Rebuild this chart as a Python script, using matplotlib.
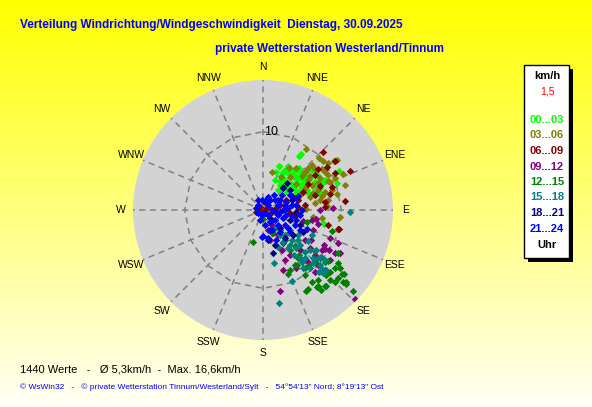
import matplotlib
matplotlib.use("Agg")
import matplotlib.pyplot as plt
import numpy as np
from matplotlib.colors import LinearSegmentedColormap
from matplotlib.patches import Polygon, Rectangle

plt.rcParams['font.family'] = ['Liberation Sans', 'DejaVu Sans']

# wind direction (deg, from N clockwise) and speed (km/h), per 3-hour block
dir_00 = [34, 34, 20, 63, 70, 29, 33, 39, 44, 50, 32, 40, 49, 56, 34, 46, 55, 56, 62, 51,
          58, 19, 37, 62, 66, 69, 64, 102, 73, 71, 103, 34, 44, 51, 38, 48, 28, 56, 48,
          30, 28, 39, 41, 55, 64, 53, 30, 63, 69, 22, 56, 65]
spd_00 = [8.6, 8.3, 6.0, 10.9, 10.1, 5.8, 6.4, 6.5, 6.8, 7.0, 4.8, 5.3, 5.8, 6.2, 3.9, 4.2, 4.9, 7.3, 7.5, 8.1,
          8.3, 5.1, 3.2, 5.4, 6.2, 7.8, 8.8, 7.8, 7.6, 7.2, 8.0, 5.7, 6.1, 6.4, 4.5, 5.0, 4.9, 5.7, 7.7,
          6.5, 5.5, 5.9, 7.1, 6.7, 7.1, 3.8, 4.3, 4.7, 6.1, 4.1, 8.2, 8.3]

dir_03 = [35, 47, 51, 13, 32, 38, 47, 73, 66, 66, 48, 54, 52, 61, 59, 67, 63, 70, 74, 62,
          68, 75, 80, 52, 74, 54, 39, 66, 82, 29, 95, 98, 89, 86, 55, 56, 98,
          47, 55, 62, 64, 77, 81, 56, 49, 78, 71]
spd_03 = [9.5, 9.8, 9.9, 5.0, 6.3, 6.8, 7.9, 10.9, 11.2, 9.1, 7.2, 7.4, 8.4, 8.3, 9.3, 9.3, 7.0, 7.5, 8.2, 6.1,
          5.1, 6.2, 7.4, 5.4, 9.2, 10.2, 5.5, 10.1, 6.7, 4.8, 9.9, 6.4, 5.5, 8.2, 11.0, 11.4, 7.6,
          8.5, 9.2, 9.4, 7.8, 7.7, 8.4, 6.9, 6.6, 9.6, 6.7]

dir_06 = [46, 56, 56, 66, 63, 72, 77, 84, 83, 87, 53, 56, 41, 85, 83, 66, 60, 74, 74, 67,
          64, 292, 180, 59, 315, 72, 103, 81, 74, 96, 101, 67, 104, 103, 104, 270, 250, 20]
spd_06 = [10.7, 11.1, 9.8, 12.2, 10.3, 9.3, 8.8, 10.5, 8.0, 7.9, 8.8, 8.0, 3.9, 4.5, 5.4, 5.6, 6.6, 6.9, 4.6, 7.9,
          4.1, 0.7, 0.3, 0.8, 0.5, 0.4, 1.2, 1.7, 2.3, 3.5, 4.2, 3.2, 9.9, 8.5, 10.0, 0.6, 0.9, 1.0]

dir_09 = [134, 168, 100, 102, 121, 120, 121, 140, 134, 130, 126, 129, 131, 139, 135, 137, 149, 149, 167, 149,
          149, 166, 156, 150, 122, 113, 105, 104, 114, 119, 88, 90, 162, 157, 129,
          122, 124, 143, 155, 127, 112]
spd_09 = [16.4, 10.6, 6.9, 6.4, 10.7, 9.0, 9.8, 10.4, 11.0, 9.5, 6.6, 7.7, 8.8, 8.8, 9.9, 7.0, 2.2, 3.7, 3.9, 4.9,
          6.7, 2.6, 7.0, 8.5, 9.3, 9.3, 5.3, 7.3, 10.5, 11.3, 9.0, 7.3, 8.1, 3.2, 9.6,
          7.3, 9.1, 8.3, 5.7, 10.7, 6.9]

dir_12 = [197, 107, 120, 125, 128, 128, 131, 132, 132, 135, 136, 144, 150, 152, 159, 156, 150, 138, 141, 140,
          137, 130, 128, 133, 147, 148, 146, 144, 129, 142, 140, 145, 141, 129, 180, 159, 105,
          135, 136, 132, 144, 146, 127, 144, 144, 132]
spd_12 = [4.3, 9.2, 11.0, 11.7, 10.5, 13.2, 14.1, 13.7, 15.4, 13.0, 11.5, 12.0, 11.6, 11.7, 8.8, 8.4, 8.1, 6.1, 7.4, 9.2,
          10.6, 10.3, 8.4, 11.7, 9.9, 8.3, 6.2, 4.8, 11.8, 11.4, 12.6, 12.0, 12.5, 12.9, 1.1, 3.2, 5.8,
          9.4, 12.4, 12.9, 12.7, 11.1, 12.3, 9.1, 7.6, 14.2]

dir_15 = [168, 158, 170, 158, 129, 139, 136, 133, 135, 134, 134, 145, 143, 141, 147, 125, 127, 140, 129, 126,
          138, 91, 117, 136, 146, 127, 146, 142, 137, 139,
          142, 139, 131, 135, 130, 131, 148, 145, 134]
spd_15 = [6.9, 9.8, 12.0, 5.1, 9.6, 4.3, 5.3, 6.5, 7.6, 8.8, 10.1, 7.0, 8.3, 9.5, 5.8, 7.0, 8.5, 3.4, 10.2, 5.5,
          10.6, 11.1, 7.0, 11.1, 3.9, 4.3, 2.8, 7.7, 9.3, 6.4,
          5.6, 8.1, 9.3, 10.6, 7.9, 5.9, 4.8, 9.0, 11.1]

dir_18 = [42, 42, 54, 71, 90, 110, 137, 142, 130, 161, 167, 139, 112, 56, 171, 94, 119]
spd_18 = [4.6, 3.8, 4.3, 3.9, 2.8, 3.7, 3.2, 4.5, 5.0, 4.7, 5.6, 1.4, 5.1, 2.3, 3.9, 4.2, 5.8]

dir_21 = [315, 354, 21, 0, 45, 50, 52, 61, 90, 97, 85, 81, 135, 130, 112, 102, 98, 172, 156, 142,
          126, 115, 113, 170, 157, 35, 72, 71, 191, 239, 180, 182, 68, 124, 108, 80, 150, 77, 90,
          17, 36, 60, 70, 90, 146, 99, 102, 107, 161, 135, 129, 118, 197, 333, 286]
spd_21 = [0.9, 1.3, 1.8, 1.1, 0.9, 2.0, 3.1, 3.9, 1.1, 2.2, 3.2, 4.3, 0.9, 2.0, 2.8, 3.8, 4.8, 1.9, 2.8, 3.6,
          3.9, 4.5, 6.1, 3.6, 4.2, 1.6, 2.0, 3.1, 0.7, 0.7, 3.3, 3.4, 4.8, 3.4, 2.0, 3.8, 1.8, 2.9, 2.6,
          1.3, 2.4, 2.5, 4.5, 5.0, 0.5, 1.7, 3.0, 4.4, 2.7, 2.7, 4.4, 5.4, 1.3, 1.4, 0.9]

blocks = ["00...03", "03...06", "06...09", "09...12", "12...15", "15...18", "18...21", "21...24"]
block_colors = ["#00ff00", "#808000", "#800000", "#800080", "#008000", "#008080", "#000080", "#0000ff"]
all_dirs = [dir_00, dir_03, dir_06, dir_09, dir_12, dir_15, dir_18, dir_21]
all_spds = [spd_00, spd_03, spd_06, spd_09, spd_12, spd_15, spd_18, spd_21]

compass = ["N", "NNE", "NE", "ENE", "E", "ESE", "SE", "SSE",
           "S", "SSW", "SW", "WSW", "W", "WNW", "NW", "NNW"]
r_max = 16.6
r_ring = 10

W, H = 592, 407
fig = plt.figure(figsize=(W / 100, H / 100), dpi=100)

# yellow gradient background
bg = fig.add_axes([0, 0, 1, 1])
bg.axis('off')
grad = np.linspace(0, 1, 256).reshape(-1, 1)
cmap = LinearSegmentedColormap.from_list('bg', ['#ffff00', '#fffff5'])
bg.imshow(grad, aspect='auto', cmap=cmap, extent=[0, 1, 0, 1], origin='upper')
bg.set_xlim(0, 1)
bg.set_ylim(0, 1)

# polar plot, centre at (263, 210) px, radius 130 px
cx, cy, rad = 263, 210, 130
ax = fig.add_axes([(cx - rad) / W, (H - cy - rad) / H, 2 * rad / W, 2 * rad / H],
                  projection='polar')
ax.set_facecolor('#d3d3d3')
ax.set_theta_zero_location('N')
ax.set_theta_direction(-1)
ax.set_ylim(0, r_max)
ax.set_xticks([])
ax.set_yticks([])
ax.grid(False)
ax.spines['polar'].set_visible(False)

angles = np.deg2rad(np.arange(16) * 22.5)
for a in angles:
    ax.plot([a, a], [0, r_max], color='#808080', lw=1.1, ls=(0, (4, 3)), zorder=1)
ring = Polygon(np.column_stack([angles, np.full(16, r_ring)]), closed=True, fill=False,
               edgecolor='#808080', lw=1.1, ls=(0, (4, 3)), transform=ax.transData, zorder=1)
ax.add_patch(ring)
ax.text(np.deg2rad(6), r_ring, "10", fontsize=9, ha='center', va='center', zorder=2)

for a, lab in zip(angles, compass):
    ax.text(a, 18.2, lab, fontsize=7.5, ha='center', va='center', clip_on=False)

for d, s, c in zip(all_dirs, all_spds, block_colors):
    ax.scatter(np.deg2rad(d), s, marker='D', s=14, color=c, linewidths=0, zorder=3)

# titles
blue = '#0000ff'
fig.text(20 / W, 1 - 25 / H, "Verteilung Windrichtung/Windgeschwindigkeit  Dienstag, 30.09.2025",
         color=blue, fontsize=8.5, fontweight='bold', va='center')
fig.text(215 / W, 1 - 49 / H, "private Wetterstation Westerland/Tinnum",
         color=blue, fontsize=8.5, fontweight='bold', va='center')

# footer
fig.text(20 / W, 1 - 370 / H, "1440 Werte   -   \u00d8 5,3km/h  -  Max. 16,6km/h",
         fontsize=8, va='center')
fig.text(20 / W, 1 - 387 / H,
         "\u00a9 WsWin32   -   \u00a9 private Wetterstation Tinnum/Westerland/Sylt   -   54\u00b054'13\" Nord; 8\u00b019'13\" Ost",
         color=blue, fontsize=6, va='center')

# legend box with shadow
bx0, bx1, by0, by1 = 524, 569, 65, 258
fig.patches.append(Rectangle(((bx0 + 4) / W, 1 - (by1 + 4) / H), (bx1 - bx0) / W, (by1 - by0) / H,
                             transform=fig.transFigure, facecolor='black', edgecolor='none'))
fig.patches.append(Rectangle((bx0 / W, 1 - by1 / H), (bx1 - bx0) / W, (by1 - by0) / H,
                             transform=fig.transFigure, facecolor='white', edgecolor='black', lw=1))
lx = 547 / W
fig.text(lx, 1 - 76 / H, "km/h", fontsize=8, fontweight='bold', ha='center', va='center')
fig.text(lx, 1 - 92 / H, "1,5", fontsize=7.5, color='red', ha='center', va='center')
for i, (lab, c) in enumerate(zip(blocks, block_colors)):
    fig.text(lx, 1 - (120 + i * 15.5) / H, lab, fontsize=8, fontweight='bold', color=c,
             ha='center', va='center')
fig.text(lx, 1 - 245 / H, "Uhr", fontsize=8, fontweight='bold', ha='center', va='center')

fig.savefig("out.png", dpi=100)
